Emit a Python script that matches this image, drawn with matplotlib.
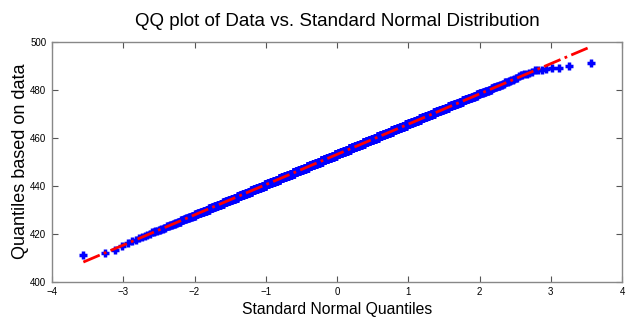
import matplotlib
matplotlib.use("Agg")
import matplotlib.pyplot as plt
import numpy as np
from statistics import NormalDist

# data values (read to half a unit) and how many samples take each value
values = np.arange(411.0, 491.25, 0.5)
counts = [1, 0, 1, 0, 1, 0, 0, 0, 1, 0, 1, 0, 1, 1, 1,            # 411.0 - 418.0
          1, 1, 1, 1, 2, 2, 2, 2, 2, 3, 3, 3, 3, 4, 4, 4, 5, 5, 6, 6,   # 418.5 - 428.0
          7, 7, 8, 8, 9, 9, 10, 11, 12, 12, 13, 14, 15, 16, 16, 17, 18, 19, 20, 21,  # 428.5 - 438.0
          22, 23, 24, 25, 26, 27, 28, 29, 30, 31, 32, 33, 34, 35, 36, 36, 37, 38, 39, 39,  # 438.5 - 448.0
          40, 40, 41, 41, 42, 42, 42, 42, 42, 42,                   # 448.5 - 453.0
          42, 42, 42, 42, 42, 41, 41, 40, 40, 39, 39, 38, 37, 36, 36, 35, 34, 33, 32, 31,  # 453.5 - 463.0
          30, 29, 28, 27, 26, 25, 24, 23, 22, 21, 20, 19, 18, 17, 16, 16, 15, 14, 13, 12,  # 463.5 - 473.0
          12, 11, 10, 9, 9, 8, 8, 7, 6, 6, 6, 5, 5, 4, 3, 4, 4, 3, 2, 3,   # 473.5 - 483.0
          2, 2, 1, 2,                                               # 483.5 - 485.0
          1, 2, 2, 1, 1, 3, 1, 2, 0, 1, 0, 1]                       # 485.5 - 491.0
assert len(counts) == len(values)

x_ticks = [-4, -3, -2, -1, 0, 1, 2, 3, 4]
y_ticks = [400, 420, 440, 460, 480, 500]

data = np.repeat(values, counts)
n = len(data)
nd = NormalDist()
theo = np.array([nd.inv_cdf((i - 0.5) / n) for i in range(1, n + 1)])

# reference line through the 1st and 3rd quartiles, drawn over the data range
q1, q3 = np.percentile(data, [25, 75])
z1, z3 = nd.inv_cdf(0.25), nd.inv_cdf(0.75)
slope = (q3 - q1) / (z3 - z1)
icpt = q1 - slope * z1
xl = np.array([theo[0], theo[-1]])

plt.rcParams['font.family'] = ['Liberation Sans', 'DejaVu Sans']

fig = plt.figure(figsize=(6.3, 3.2), dpi=100)
ax = fig.add_axes([0.0825, 0.12, 0.905, 0.75])

ax.plot(theo, data, '+', color='blue', markersize=6, markeredgewidth=2.5, zorder=2)
ax.plot(xl, icpt + slope * xl, '-.', color='red', linewidth=2, zorder=3)

ax.set_xlim(-4, 4)
ax.set_ylim(400, 500)
ax.set_xticks(x_ticks)
ax.set_yticks(y_ticks)
ax.tick_params(direction='in', top=True, right=True, labelsize=7, length=4,
               color='#555555', pad=4)
for s in ax.spines.values():
    s.set_color('#888888')
    s.set_linewidth(1)

ax.set_title('QQ plot of Data vs. Standard Normal Distribution', fontsize=13.5, pad=11)
ax.set_xlabel('Standard Normal Quantiles', fontsize=11.3, labelpad=3.5)
ax.set_ylabel('Quantiles based on data', fontsize=13)
ax.yaxis.set_label_coords(-0.041, 0.5)

fig.savefig('out.png', dpi=100)
